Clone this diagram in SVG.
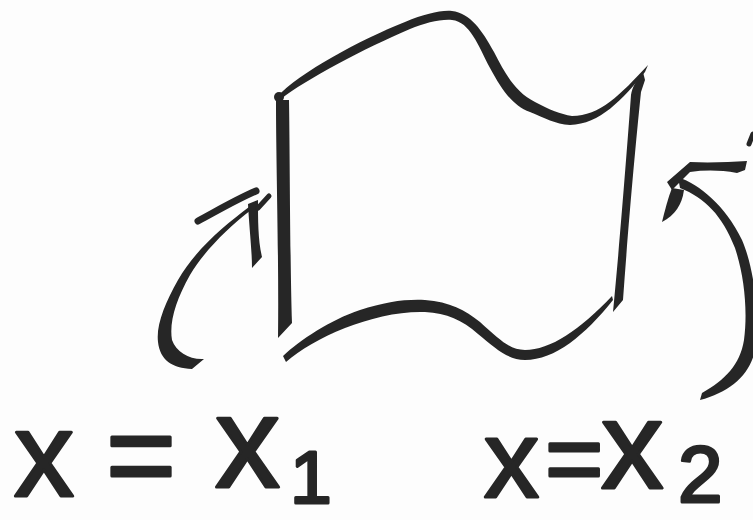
<svg xmlns="http://www.w3.org/2000/svg" width="753" height="520" viewBox="0 0 753 520">
  <style>
    .ink { fill: #262626; stroke: none; }
    .inkline { fill: none; stroke: #262626; stroke-linecap: round; stroke-linejoin: round; }
    .label { fill: #262626; stroke: #262626; stroke-width: 3; stroke-linejoin: round; font-family: "Liberation Sans", "DejaVu Sans", sans-serif; font-weight: normal; }
  </style>
  <rect width="753" height="520" fill="#fdfdfd"/>

  <g id="surface">
    <!-- top edge -->
    <path class="ink" d="M277,97 C300,72 360,40 405,22 C425,14 440,10 452,11 C470,13 482,30 494,52 C506,75 515,92 535,102 C550,110 560,114 572,116 C600,116 620,95 648,65 L645,72 C622,100 600,124 570,125 C555,124 545,118 530,112 C512,105 502,90 490,68 C478,45 470,22 452,20 C440,19 425,23 410,29 C365,48 305,80 281,99 Z"/>
    <circle class="ink" cx="279" cy="97" r="5"/>
    <!-- left side -->
    <path class="ink" d="M276,100 C276,160 279,260 278,338 L292,323 C290,260 290,160 289,100 Z"/>
    <!-- right side -->
    <path class="ink" d="M631,95 C627,150 620,240 613,312 L623,300 C628,230 635,150 641,92 L645,80 L643,72 C636,80 632,88 631,95 Z"/>
    <!-- bottom edge -->
    <path class="ink" d="M283,356 C300,340 330,320 360,310 C385,302 405,299 425,300 C450,302 465,310 480,322 C500,340 510,350 525,350 C550,350 580,330 612,296 L613,300 C585,335 555,360 525,360 C508,360 495,348 478,334 C462,320 447,313 425,312 C400,311 370,318 345,328 C320,338 300,350 286,362 Z"/>
  </g>

  <g id="connectors">
    <g id="arrow-left">
      <path class="ink" d="M249,207 C225,225 195,250 178,280 C165,303 156,325 158,342 C160,360 172,368 192,369 L204,359 C190,360 176,352 172,340 C169,322 176,300 190,275 C205,250 228,228 251,210 Z"/>
      <path class="inkline" stroke-width="7" d="M198,221 C215,212 235,200 256,191"/>
      <path class="ink" d="M248,204 L258,200 C258,220 258,240 262,257 L252,268 C252,250 249,225 248,204 Z"/>
      <path class="inkline" stroke-width="5" d="M258,208 L269,196"/>
    </g>
    <g id="arrow-right">
      <path class="ink" d="M678,177 C700,185 725,205 742,240 C755,270 760,320 755,350 C750,375 730,392 700,400 L702,393 C725,380 740,365 744,340 C748,310 744,275 735,248 C722,215 705,198 680,188 Z"/>
      <path class="ink" d="M667,182 L690,162 C710,163 730,162 747,161 L745,170 L737,173 C720,170 705,170 690,172 L672,190 Z"/>
      <path class="ink" d="M672,188 L684,190 C682,205 675,215 662,222 C665,210 668,198 672,188 Z"/>
      <path class="inkline" stroke-width="5" d="M749,144 L753,134"/>
    </g>
  </g>

  <g id="label-x1">
    <text class="label"><tspan x="14" y="496" font-size="120">x</tspan><tspan x="106" y="496" font-size="120">=</tspan><tspan x="215" y="487" font-size="130">x</tspan><tspan x="290" y="503" font-size="75">1</tspan></text>
  </g>
  <g id="label-x2">
    <text class="label"><tspan x="484" y="497" font-size="110">x</tspan><tspan x="545" y="493" font-size="100">=</tspan><tspan x="601" y="488" font-size="125">x</tspan><tspan x="678" y="502" font-size="80">2</tspan></text>
  </g>
</svg>
